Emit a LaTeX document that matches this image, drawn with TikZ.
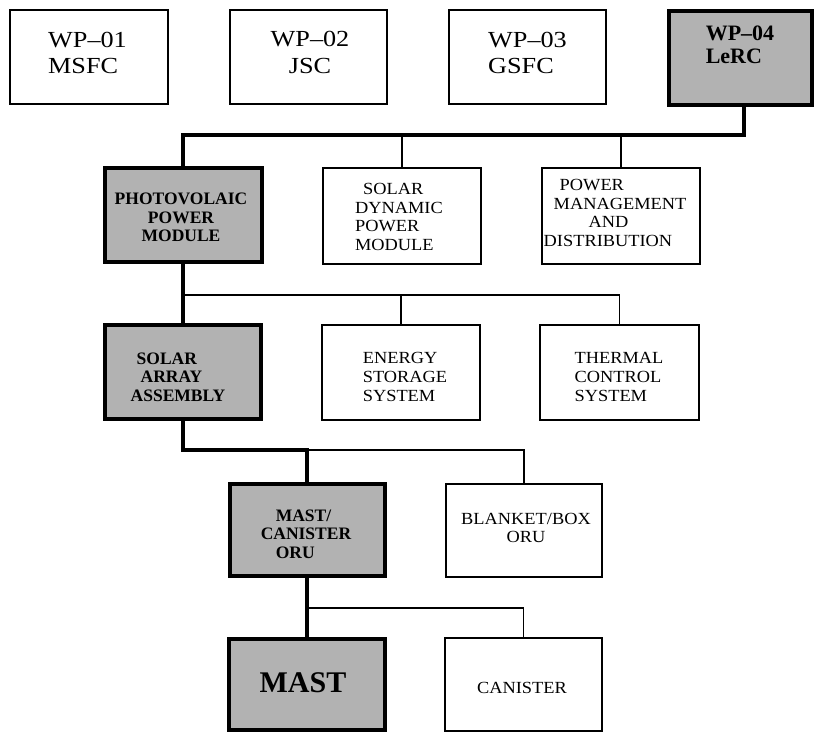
\documentclass[tikz,border=0pt]{standalone}
\usepackage{fontspec}
\setmainfont{Liberation Serif}
\newfontfamily\myWideWP[FakeStretch=1.14]{Liberation Serif}
\newfontfamily\myWideBody[FakeStretch=1.08]{Liberation Serif}
\newcommand\myWPfont{\myWideWP\fontsize{23}{26.5}\selectfont}
\newcommand\myWPbold{\bfseries\fontsize{22}{23.3}\selectfont}
\newcommand\myBodyfont{\myWideBody\fontsize{17}{18.7}\selectfont}
\newcommand\myBoldfont{\bfseries\fontsize{17.5}{18.3}\selectfont}
\newcommand\myMastfont{\bfseries\fontsize{30}{30}\selectfont}
\begin{document}
\begin{tikzpicture}[x=1pt,y=-1pt,
  plainbox/.style={draw, line width=1.3pt, fill=white, inner sep=0pt,
    minimum width=157pt, minimum height=94pt},
  keybox/.style={draw, line width=4pt, fill=black!30, inner sep=0pt,
    minimum width=156pt, minimum height=93pt},
  plaintext/.style={inner sep=0pt, font=\myBodyfont},
  boldtext/.style={inner sep=0pt, font=\myBoldfont},
  thinline/.style={line width=1.3pt},
  thickline/.style={line width=4pt, line join=miter}]
\useasboundingbox (0,0) rectangle (814,733);
\fill[white] (0,0) rectangle (814,733);

% ---------- boxes ----------
\node[plainbox, minimum width=158pt] (wp1) at (89,57) {};
\node[plainbox] (wp2) at (308.5,57) {};
\node[plainbox] (wp3) at (527.5,57) {};
\node[keybox, minimum width=143pt, minimum height=94pt] (wp4) at (740.5,58) {};

\node[keybox, minimum width=157pt, minimum height=94pt] (pv) at (183,215) {};
\node[plainbox, minimum width=158pt, minimum height=96pt] (sdpm) at (402,216) {};
\node[plainbox, minimum width=158pt, minimum height=96pt] (pmad) at (621,216) {};

\node[keybox, minimum width=156pt, minimum height=94pt] (ssa) at (183,372) {};
\node[plainbox, minimum width=158pt, minimum height=95pt] (ess) at (401,372.5) {};
\node[plainbox, minimum width=159pt, minimum height=95pt] (tcs) at (619.5,372.5) {};

\node[keybox, minimum width=155pt, minimum height=92pt] (mco) at (307,530) {};
\node[plainbox, minimum width=156pt, minimum height=93pt] (bbo) at (524,530.5) {};

\node[keybox, minimum width=156pt, minimum height=91pt] (mast) at (307,684.5) {};
\node[plainbox, minimum width=157pt, minimum height=93pt] (can) at (523.5,684.5) {};

% ---------- texts ----------
\node[plaintext, font=\myWPfont, align=left] (wp1t) at (87.5,53) {WP\textendash01\\MSFC};
\node[plaintext, font=\myWPfont, align=center] (wp2t) at (310,52.5) {WP\textendash02\\JSC};
\node[plaintext, font=\myWPfont, align=left] (wp3t) at (527.5,53) {WP\textendash03\\GSFC};
\node[boldtext, font=\myWPbold, align=left] (wp4t) at (740,45) {WP\textendash04\\LeRC};

\node[boldtext, align=center] (pvt) at (181,217.5) {PHOTOVOLAIC\\POWER\\MODULE};
\node[plaintext, align=left] (sdpmt) at (399,217) {\hspace*{8pt}SOLAR\\DYNAMIC\\POWER\\MODULE};
\node[plaintext, align=left] (pmadt) at (615,213) {\hspace*{16pt}POWER\\\hspace*{10pt}MANAGEMENT\\\hspace*{45pt}AND\\DISTRIBUTION};

\node[boldtext, align=left] (ssat) at (178,377) {\hspace*{6pt}SOLAR\\\hspace*{10pt}ARRAY\\ASSEMBLY};
\node[plaintext, align=left] (esst) at (405,377) {ENERGY\\STORAGE\\SYSTEM};
\node[plaintext, align=left] (tcst) at (619,377) {THERMAL\\CONTROL\\SYSTEM};

\node[boldtext, align=left] (mcot) at (306,534) {\hspace*{15pt}MAST/\\CANISTER\\\hspace*{15pt}ORU};
\node[plaintext, align=center] (bbot) at (526,528) {BLANKET/BOX\\ORU};

\node[boldtext, font=\myMastfont] (mastt) at (303,682.5) {MAST};
\node[plaintext] (cant) at (522,687.5) {CANISTER};

% ---------- connectors ----------
\coordinate (b1) at (0,135);
\coordinate (b2) at (0,295);
\coordinate (b3) at (0,450);
\coordinate (b4) at (0,608);
\coordinate (w4c) at ([xshift=3.5pt]wp4.south);

\draw[thickline] (w4c) -- (w4c |- b1) -| (pv.north);
\draw[thinline] (sdpm.north) -- (sdpm.north |- b1);
\draw[thinline] (pmad.north) -- (pmad.north |- b1);

\draw[thickline] (pv.south) -- (ssa.north);
\draw[thinline] (pv.south |- b2) -| (tcs.north);
\draw[thinline] (ess.north) -- (ess.north |- b2);

\draw[thickline] (ssa.south) |- (mco.north |- b3) -- (mco.north);
\draw[thinline] (mco.north |- b3) -| (bbo.north);

\draw[thickline] (mco.south) -- (mast.north);
\draw[thinline] (mco.south |- b4) -| (can.north);
\end{tikzpicture}
\end{document}
